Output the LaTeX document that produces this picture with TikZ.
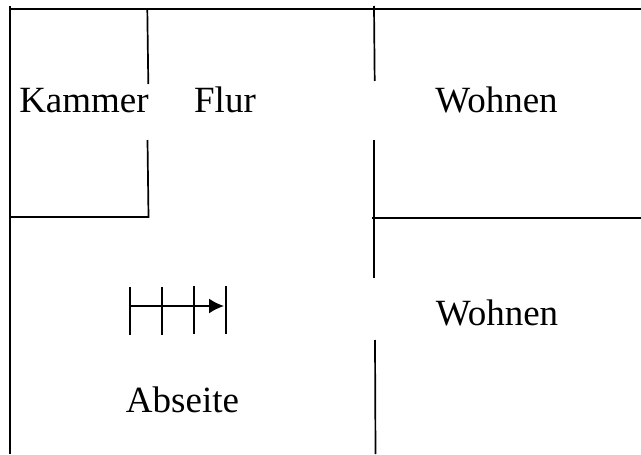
\documentclass[tikz,border=0pt]{standalone}
\usepackage{fontspec}
\setmainfont{Liberation Serif}
\usetikzlibrary{arrows.meta}
\tikzset{wall/.style={line width=1.7pt,black},
    room/.style={font=\fontsize{37}{40}\selectfont,inner sep=0pt,anchor=base}}
\begin{document}
\begin{tikzpicture}[x=1pt,y=-1pt]
    \useasboundingbox (0,0) rectangle (641,455);
    \fill[white] (0,0) rectangle (641,455);
    % outer walls
    \coordinate (tl) at (10,9);
    \coordinate (tr) at (641,9);
    \coordinate (tt) at (10,6);
    \coordinate (bl) at (10,454);
    \draw[wall] (tl)--(tr);
    \draw[wall] (tt)--(bl);
    % Kammer
    \coordinate (ka) at (147.3,9);
    \coordinate (kb) at (148.3,84);
    \coordinate (kc) at (147.5,140);
    \coordinate (kd) at (148.5,217);
    \coordinate (ke) at (10,217);
    \draw[wall] (ka)--(kb);
    \draw[wall] (kc)--(kd)--(ke);
    % middle wall
    \coordinate (ma) at (374,6);
    \coordinate (mb) at (374.7,81);
    \coordinate (mc) at (374,140);
    \coordinate (md) at (374,278);
    \coordinate (me) at (375,340);
    \coordinate (mf) at (375.5,454);
    \coordinate (wa) at (372,218);
    \coordinate (wb) at (641,218);
    \draw[wall] (ma)--(mb);
    \draw[wall] (mc)--(md);
    \draw[wall] (me)--(mf);
    \draw[wall] (wa)--(wb);
    % stairs
    \coordinate (sa) at (130,306);
    \coordinate (sb) at (224,306);
    \draw[wall,-{Latex[length=15pt,width=15pt]}] (sa)--(sb);
    \foreach \x/\y in {130/287,162/287,194/286,226/286}
        \draw[wall] (\x,\y)--(\x,\y+48);
    % labels
    \node[room] (kammer) at (84,112) {Kammer};
    \node[room] (flur) at (225,112) {Flur};
    \node[room] (wohnena) at (496.5,112) {Wohnen};
    \node[room] (wohnenb) at (497,325.5) {Wohnen};
    \node[room] (abseite) at (182.5,412) {Abseite};
\end{tikzpicture}
\end{document}
